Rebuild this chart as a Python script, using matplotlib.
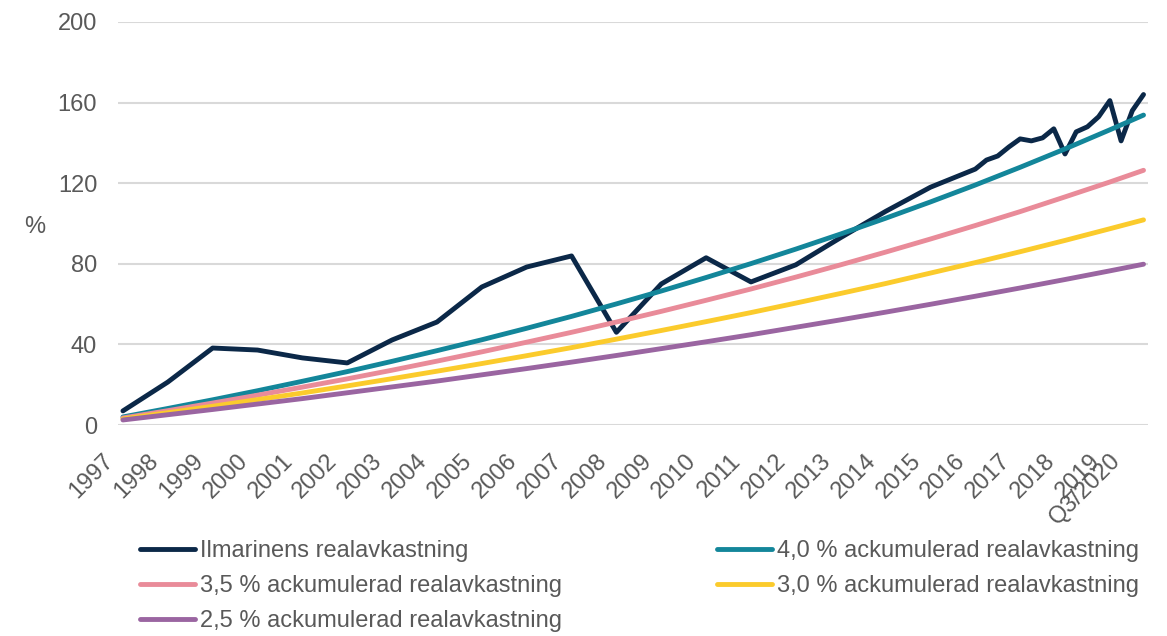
import matplotlib
matplotlib.use("Agg")
import matplotlib.pyplot as plt
from matplotlib.transforms import ScaledTranslation

plt.rcParams['font.family'] = ['Liberation Sans', 'DejaVu Sans']

# ── DATA ──────────────────────────────────────────────────────────────
# time = point in time (year-end 1997 -> 1998.0), quarterly from 2017
ilm_time = [1998, 1999, 2000, 2001, 2002, 2003, 2004, 2005, 2006, 2007,
            2008, 2009, 2010, 2011, 2012, 2013, 2014, 2015, 2016, 2017,
            2017.25, 2017.5, 2017.75, 2018, 2018.25, 2018.5, 2018.75, 2019,
            2019.25, 2019.5, 2019.75, 2020, 2020.25, 2020.5, 2020.75]
ilm_vals = [7.0, 21.3, 38.2, 37.2, 33.3, 30.8, 42.2, 51.1, 68.5, 78.4,
            83.9, 46.0, 70.0, 83.0, 71.0, 79.5, 93.0, 106.0, 118.0, 127.0,
            131.5, 133.5, 138.0, 142.0, 141.0, 142.5, 147.0, 134.5,
            145.5, 148.0, 153.0, 161.0, 141.0, 156.0, 164.0]

ref_time = [1998, 1999, 2000, 2001, 2002, 2003, 2004, 2005, 2006, 2007,
            2008, 2009, 2010, 2011, 2012, 2013, 2014, 2015, 2016, 2017,
            2018, 2019, 2020, 2020.75]
ref_40 = [4.0, 8.2, 12.5, 17.0, 21.7, 26.5, 31.6, 36.9, 42.3, 48.0, 53.9, 60.1,
          66.5, 73.2, 80.1, 87.3, 94.8, 102.6, 110.7, 119.1, 127.9, 137.0, 146.5, 153.8]
ref_35 = [3.5, 7.1, 10.9, 14.8, 18.8, 22.9, 27.2, 31.7, 36.3, 41.1, 46.0, 51.1,
          56.4, 61.9, 67.5, 73.4, 79.5, 85.8, 92.3, 99.0, 105.9, 113.2, 120.6, 126.4]
ref_30 = [3.0, 6.1, 9.3, 12.6, 15.9, 19.4, 23.0, 26.7, 30.5, 34.4, 38.4, 42.6,
          46.9, 51.3, 55.8, 60.5, 65.3, 70.2, 75.4, 80.6, 86.0, 91.6, 97.4, 101.8]
ref_25 = [2.5, 5.1, 7.7, 10.4, 13.1, 16.0, 18.9, 21.8, 24.9, 28.0, 31.2, 34.5,
          37.9, 41.3, 44.8, 48.5, 52.2, 56.0, 59.9, 63.9, 68.0, 72.2, 76.5, 79.8]

tick_time = [1998, 1999, 2000, 2001, 2002, 2003, 2004, 2005, 2006, 2007, 2008,
             2009, 2010, 2011, 2012, 2013, 2014, 2015, 2016, 2017, 2018, 2019,
             2020, 2020.46]
tick_labels = ['1997', '1998', '1999', '2000', '2001', '2002', '2003', '2004',
               '2005', '2006', '2007', '2008', '2009', '2010', '2011', '2012',
               '2013', '2014', '2015', '2016', '2017', '2018', '2019', 'Q3/2020']

names = ['Ilmarinens realavkastning',
         '4,0 % ackumulerad realavkastning',
         '3,5 % ackumulerad realavkastning',
         '3,0 % ackumulerad realavkastning',
         '2,5 % ackumulerad realavkastning']
colors = ['#0B2848', '#13869A', '#E98B99', '#FBCB2C', '#9A65A1']

text_color = '#595959'
grid_color = '#D9D9D9'

# ── FIGURE ────────────────────────────────────────────────────────────
fig = plt.figure(figsize=(11.67, 6.36), dpi=100)
ax = fig.add_axes([118 / 1167, 1 - 425 / 636, 1030 / 1167, 403 / 636])

lw = 3.5
series = [(ilm_time, ilm_vals), (ref_time, ref_40), (ref_time, ref_35),
          (ref_time, ref_30), (ref_time, ref_25)]
handles = []
for (t, v), name, col in zip(series, names, colors):
    h, = ax.plot(t, v, color=col, lw=lw, label=name,
                 solid_joinstyle='round', solid_capstyle='round')
    handles.append(h)

ax.set_ylim(0, 200)
ax.set_yticks(range(0, 201, 40))
ax.set_xlim(1997.89, 2020.85)
ax.set_xticks(tick_time)
ax.set_xticklabels(tick_labels, rotation=45, ha='right', va='center',
                   rotation_mode='anchor')

ax.grid(axis='y', color=grid_color, lw=1.5)
ax.set_axisbelow(True)
for s in ax.spines.values():
    s.set_visible(False)
ax.tick_params(axis='both', length=0, labelsize=17, colors=text_color)
ax.tick_params(axis='y', pad=15)
ax.tick_params(axis='x', pad=14)

# shift rotated year labels down-left like the original
offset = ScaledTranslation(-0.13, -0.13, fig.dpi_scale_trans)
for lab in ax.get_xticklabels():
    lab.set_transform(lab.get_transform() + offset)

ax.set_ylabel('%', rotation=0, fontsize=17, color=text_color,
              ha='center', va='center')
ax.yaxis.set_label_coords(-0.081, 0.491)

# legend: two columns, row-major order as in the original
order = [0, 2, 4, 1, 3]
fig.legend([handles[i] for i in order], [names[i] for i in order],
           ncol=2, loc='upper left', bbox_to_anchor=(140 / 1167, 1 - 540 / 636),
           frameon=False, fontsize=17, labelcolor=text_color,
           handlelength=2.35, handletextpad=0.2, columnspacing=6.55,
           labelspacing=0.55, borderpad=0, borderaxespad=0)

fig.savefig('out.png', dpi=100)
